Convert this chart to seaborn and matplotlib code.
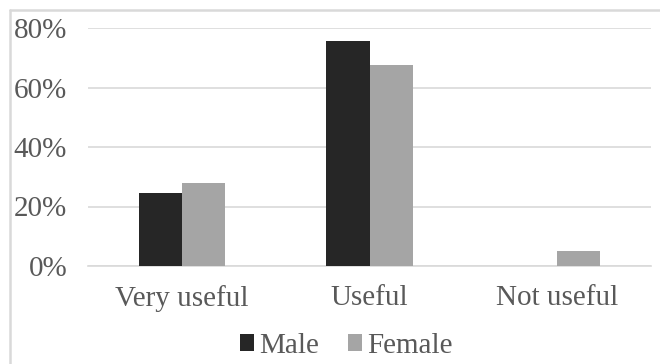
import matplotlib
matplotlib.use("Agg")
import matplotlib.pyplot as plt
from matplotlib.patches import Patch
from matplotlib.lines import Line2D
import seaborn as sns
import pandas as pd

# Survey responses: share of respondents by gender
categories = ["Very useful", "Useful", "Not useful"]
male = [24.5, 75.6, 0.0]
female = [27.9, 67.6, 5.0]
genders = ["Male", "Female"]
y_ticks = [0, 20, 40, 60, 80]
y_tick_labels = ["0%", "20%", "40%", "60%", "80%"]

colors = {"Male": "#262626", "Female": "#a5a5a5"}
text_color = "#595959"

df = pd.DataFrame({
    "Category": categories * 2,
    "Gender": ["Male"] * len(categories) + ["Female"] * len(categories),
    "Share": male + female,
})

sns.set_theme(style="white")
serif = ["Liberation Serif", "DejaVu Serif"]
plt.rcParams["font.family"] = serif

fig = plt.figure(figsize=(6.6, 3.64), dpi=100)
ax = fig.add_axes([88 / 660, 1 - 266 / 364, (651 - 88) / 660, (266 - 28) / 364])

sns.barplot(data=df, x="Category", y="Share", hue="Gender", order=categories,
            hue_order=genders, palette=colors, width=0.46, saturation=1,
            linewidth=0, ax=ax, legend=False, zorder=3)

ax.set_ylim(0, 80)
ax.set_xlim(-0.5, 2.5)
ax.set_yticks(y_ticks)
ax.set_yticklabels(y_tick_labels, family=serif)
ax.set_xticks(range(len(categories)))
ax.set_xticklabels(categories, family=serif)
ax.yaxis.grid(True, color="#d9d9d9", linewidth=1.2, zorder=0)
ax.set_axisbelow(True)
for s in ["top", "right", "left"]:
    ax.spines[s].set_visible(False)
ax.spines["bottom"].set_color("#d9d9d9")
ax.spines["bottom"].set_linewidth(1.2)
ax.set_xlabel("")
ax.set_ylabel("")
ax.tick_params(axis="y", length=0, pad=15, labelsize=21, labelcolor=text_color)
ax.tick_params(axis="x", length=0, pad=14, labelsize=21, labelcolor=text_color)

handles = [Patch(facecolor=colors[g], edgecolor="none", label=g) for g in genders]
fig.legend(handles=handles, loc="center", bbox_to_anchor=(346 / 660, 1 - 346 / 364),
           ncol=2, frameon=False, handlelength=0.5, handleheight=0.5,
           handletextpad=0.15, columnspacing=1.0, labelcolor=text_color,
           borderaxespad=0, borderpad=0, prop={"family": serif, "size": 21})

# Light chart-area border along the top and left
fig.add_artist(Line2D([9.5 / 660, 9.5 / 660], [0, 1 - 10 / 364], transform=fig.transFigure,
                      color="#d9d9d9", linewidth=1.8))
fig.add_artist(Line2D([9.5 / 660, 1], [1 - 10 / 364, 1 - 10 / 364], transform=fig.transFigure,
                      color="#d9d9d9", linewidth=1.8))

fig.savefig("out.png", dpi=100)
